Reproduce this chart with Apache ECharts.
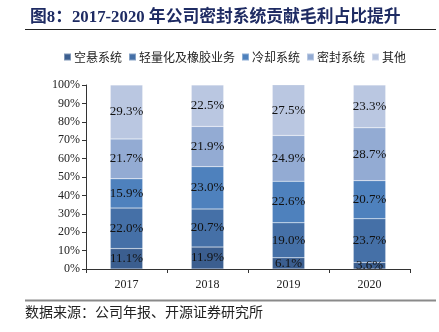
<!DOCTYPE html>
<html><head><meta charset="utf-8">
<script src="https://cdn.jsdelivr.net/npm/echarts@6/dist/echarts.min.js"></script>
<style>html,body{margin:0;padding:0;background:#fff;}#c{width:439px;height:332px;}</style>
</head><body><div id="c"></div>
<script>
const categories = ['2017', '2018', '2019', '2020'];
const seriesNames = ['空悬系统', '轻量化及橡胶业务', '冷却系统', '密封系统', '其他'];
const airSuspension = [11.1, 11.9, 6.1, 3.6];
const lightweightRubber = [22.0, 20.7, 19.0, 23.7];
const cooling = [15.9, 23.0, 22.6, 20.7];
const sealing = [21.7, 21.9, 24.9, 28.7];
const others = [29.3, 22.5, 27.5, 23.3];
const yTicks = [0, 10, 20, 30, 40, 50, 60, 70, 80, 90, 100];
const colors = ['#3B5E8F', '#4570A7', '#4E81BD', '#93ABD3', '#BAC7E1'];
const seriesData = [airSuspension, lightweightRubber, cooling, sealing, others];

const chart = echarts.init(document.getElementById('c'), null, {renderer: 'canvas'});
const serif = '"Liberation Serif", "Times New Roman", "Noto Serif CJK SC", serif';
chart.setOption({
  animation: false,
  color: colors,
  title: {
    text: '图8：2017-2020 年公司密封系统贡献毛利占比提升',
    left: 25, top: 4,
    textStyle: {fontFamily: '"Liberation Serif", "Noto Sans CJK SC", serif', fontWeight: 'bold', fontSize: 16.8, color: '#1E2B63'}
  },
  graphic: [
    {type: 'line', shape: {x1: 25, y1: 29.5, x2: 436, y2: 29.5}, style: {stroke: '#222', lineWidth: 1}},
    {type: 'line', shape: {x1: 25, y1: 300.5, x2: 436, y2: 300.5}, style: {stroke: '#8a8a8a', lineWidth: 2}},
    {type: 'text', left: 25, top: 305, style: {text: '数据来源：公司年报、开源证券研究所', font: '14px "Noto Sans CJK SC", sans-serif', fill: '#222'}}
  ],
  legend: {
    data: seriesNames,
    left: 58, top: 46,
    itemWidth: 7, itemHeight: 7, itemGap: 6,
    icon: 'rect',
    textStyle: {fontSize: 12, fontFamily: '"Noto Sans CJK SC", sans-serif', color: '#222', padding: [0, 0, 0, -2]}
  },
  grid: {left: 86, right: 29, top: 85, bottom: 63, containLabel: false},
  xAxis: {
    type: 'category', data: categories,
    axisLine: {lineStyle: {color: '#333'}},
    axisTick: {show: true, alignWithLabel: false, length: 4, lineStyle: {color: '#333'}},
    axisLabel: {fontFamily: serif, fontSize: 12, color: '#222', margin: 10}
  },
  yAxis: {
    type: 'value', min: 0, max: 100, interval: 10,
    axisLine: {show: true, lineStyle: {color: '#333'}},
    axisTick: {show: true, length: 4, lineStyle: {color: '#333'}},
    splitLine: {show: false},
    axisLabel: {fontFamily: serif, fontSize: 12, color: '#222', margin: 6,
      formatter: v => yTicks.includes(v) ? v + '%' : ''}
  },
  series: seriesNames.map((n, i) => ({
    name: n, type: 'bar', stack: 'total', barWidth: '40%',
    data: seriesData[i],
    itemStyle: {color: colors[i], borderColor: 'rgba(255,255,255,0.35)', borderWidth: 0.5},
    label: {show: true, position: 'inside', formatter: p => p.value.toFixed(1) + '%',
      fontFamily: serif, fontSize: 13, color: '#111'}
  }))
});
</script></body></html>
